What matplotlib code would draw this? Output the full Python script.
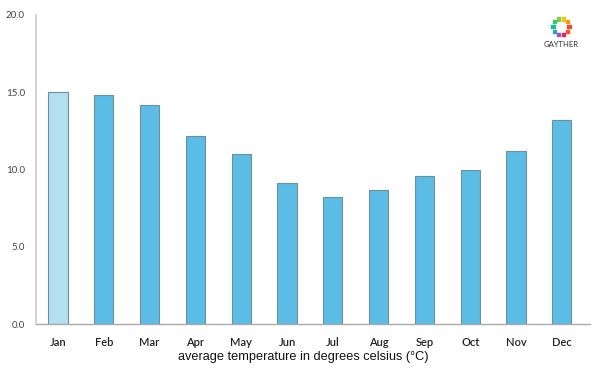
import matplotlib
matplotlib.use("Agg")
import matplotlib.pyplot as plt
import numpy as np

months = ["Jan", "Feb", "Mar", "Apr", "May", "Jun", "Jul", "Aug", "Sep", "Oct", "Nov", "Dec"]
temps = [15.0, 14.8, 14.2, 12.2, 11.0, 9.1, 8.2, 8.7, 9.6, 10.0, 11.2, 13.2]
yticks = [0.0, 5.0, 10.0, 15.0, 20.0]

fig = plt.figure(figsize=(6, 3.75), dpi=100)
ax = fig.add_axes([0.06, 0.136, 0.923, 0.824])

colors = ["#b3dff1"] + ["#5bbde6"] * 11
x = np.arange(len(months))
ax.bar(x, temps, width=0.42, color=colors, edgecolor="#6f8f9c", linewidth=0.8, zorder=2)

ax.set_xlim(-0.48, 11.61)
ax.set_ylim(0, 20)
ax.set_yticks(yticks)
ax.set_yticklabels([f"{v:.1f}" for v in yticks], fontsize=7, color="#444444", family="Lato")
ax.set_xticks(x)
ax.set_xticklabels(months, fontsize=8, color="#222222", family="Lato", fontweight="semibold")
ax.tick_params(axis="both", length=0, pad=9)
ax.tick_params(axis="y", pad=8)
for s in ["top", "right"]:
    ax.spines[s].set_visible(False)
ax.spines["left"].set_color("#cccccc")
ax.spines["left"].set_linewidth(1.2)
ax.spines["bottom"].set_color("#aaaaaa")
ax.spines["bottom"].set_linewidth(1.0)

fig.text(0.505, 0.048, "average temperature in degrees celsius (°C)", ha="center", va="center",
         fontsize=9.2, family="Liberation Sans", color="#111111")

# logo
lax = fig.add_axes([0.915, 0.897, 0.04, 0.064])
lax.set_xlim(-1.5, 1.5)
lax.set_ylim(-1.5, 1.5)
lax.set_aspect("equal")
lax.axis("off")
logo_colors = ["#e84c3d", "#f39c12", "#f1c40f", "#8bc34a", "#2ecc71", "#1abc9c",
               "#3498db", "#9b59b6", "#e91e63", "#ff5722"]
ang = np.linspace(0, 2 * np.pi, len(logo_colors), endpoint=False)
lax.scatter(np.cos(ang), np.sin(ang), s=5, c=logo_colors, marker="s")
fig.text(0.935, 0.882, "GAYTHER", ha="center", va="center", fontsize=5.5, color="#333333", family="Lato")

fig.savefig("out.png", dpi=100)
